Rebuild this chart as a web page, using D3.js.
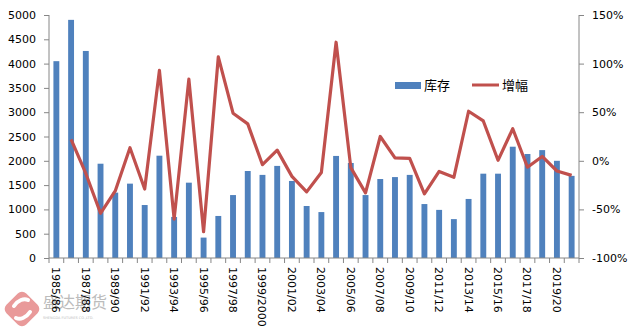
<!DOCTYPE html>
<html>
<head>
<meta charset="utf-8">
<script src="https://cdn.jsdelivr.net/npm/d3@7"></script>
<style>
  body { margin: 0; background: #fff; }
  svg { display: block; }
</style>
</head>
<body>
<svg id="chart" width="635" height="335"></svg>
<script>
const categories = ["1985/86","1986/87","1987/88","1988/89","1989/90","1990/91","1991/92","1992/93","1993/94","1994/95","1995/96","1996/97","1997/98","1998/99","1999/2000","2000/01","2001/02","2002/03","2003/04","2004/05","2005/06","2006/07","2007/08","2008/09","2009/10","2010/11","2011/12","2012/13","2013/14","2014/15","2015/16","2016/17","2017/18","2018/19","2019/20","2020/21"];
const stock = [4050,4900,4260,1940,1345,1530,1090,2105,845,1550,420,865,1295,1790,1710,1895,1585,1070,945,2100,1955,1295,1625,1665,1710,1110,990,800,1215,1735,1735,2290,2140,2220,2000,1690];
const growth = [null,22,-13,-54,-31,13.5,-29,93,-60,84,-73,107,49,38,-4,11,-16,-32,-12,122,-7,-33,25,3,2.5,-34,-11,-17,51,41,0.5,33,-6.6,4.5,-10.5,-15];
const leftTicks = [0,500,1000,1500,2000,2500,3000,3500,4000,4500,5000];
const rightTicks = [-100,-50,0,50,100,150];
const seriesNames = ["库存","增幅"];

const svg = d3.select("#chart");
const m = {left: 49, right: 579, top: 15, bottom: 258};
const font = "DejaVu Sans, Verdana, sans-serif";
const axisColor = "#868686";

const x = d3.scaleBand().domain(categories).range([m.left, m.right]).paddingInner(0).paddingOuter(0);
const yL = d3.scaleLinear().domain([0,5000]).range([m.bottom, m.top]);
const yR = d3.scaleLinear().domain([-100,150]).range([m.bottom, m.top]);

// watermark
const wm = svg.append("g").attr("opacity", 0.7);
wm.append("rect").attr("x", -14).attr("y", -14).attr("width", 28).attr("height", 28).attr("rx", 6)
  .attr("transform", "translate(22,309) rotate(45)").attr("fill", "#e07070");
wm.append("path").attr("d", "M14,306 C18,300 24,298 28,300 M16,318 C20,320 26,318 30,312")
  .attr("stroke", "#fff").attr("stroke-width", 4).attr("fill", "none").attr("stroke-linecap", "round");
wm.append("text").attr("x", 43).attr("y", 308).attr("font-family", "Noto Sans CJK SC").attr("font-size", 16)
  .attr("fill", "#a0a0a0").text("盛达期货");
wm.append("text").attr("x", 43).attr("y", 319).attr("font-family", font).attr("font-size", 3.5)
  .attr("fill", "#a0a0a0").text("SHENGDA FUTURES CO.,LTD.");

// bars
const bw = x.bandwidth() * 0.4;
svg.append("g").selectAll("rect").data(stock).join("rect")
  .attr("x", (d,i) => x(categories[i]) + x.bandwidth()/2 - bw/2)
  .attr("y", d => yL(d))
  .attr("width", bw)
  .attr("height", d => m.bottom - yL(d))
  .attr("fill", "#4F81BD");

// line
const line = d3.line()
  .defined(d => d.v !== null)
  .x(d => x(d.c) + x.bandwidth()/2)
  .y(d => yR(d.v));
svg.append("path")
  .datum(growth.map((v,i) => ({c: categories[i], v})))
  .attr("d", line)
  .attr("fill", "none")
  .attr("stroke", "#C0504D")
  .attr("stroke-width", 3.2)
  .attr("stroke-linejoin", "round");

// left axis
const gL = svg.append("g").attr("transform", `translate(${m.left},0)`)
  .call(d3.axisLeft(yL).tickValues(leftTicks).tickSize(5).tickPadding(8).tickFormat(d3.format("d")));
gL.select(".domain").attr("stroke", axisColor).attr("d", `M0,${m.top}V${m.bottom}`);
gL.selectAll(".tick line").attr("stroke", axisColor);
gL.selectAll("text").attr("font-family", font).attr("font-size", 11).attr("fill", "#000");

// right axis
const gR = svg.append("g").attr("transform", `translate(${m.right},0)`)
  .call(d3.axisRight(yR).tickValues(rightTicks).tickSize(5).tickPadding(8).tickFormat(d => d + "%"));
gR.select(".domain").attr("stroke", axisColor).attr("d", `M0,${m.top}V${m.bottom}`);
gR.selectAll(".tick line").attr("stroke", axisColor);
gR.selectAll("text").attr("font-family", font).attr("font-size", 11).attr("fill", "#000");

// bottom axis
const gB = svg.append("g").attr("transform", `translate(0,${m.bottom})`);
gB.append("line").attr("x1", m.left).attr("x2", m.right).attr("y1", 0).attr("y2", 0).attr("stroke", axisColor);
const bounds = categories.map(c => x(c)).concat([m.right]);
gB.selectAll("line.tk").data(bounds).join("line").attr("class","tk")
  .attr("x1", d => d).attr("x2", d => d).attr("y1", 0).attr("y2", 5).attr("stroke", axisColor);
gB.selectAll("text").data(categories.filter((c,i) => i % 2 === 0)).join("text")
  .attr("transform", d => `translate(${x(d) + x.bandwidth()/2 - 4},${9}) rotate(90)`)
  .attr("font-family", font).attr("font-size", 11).attr("fill", "#000")
  .attr("text-anchor", "start")
  .text(d => d);

// legend
const lg = svg.append("g");
lg.append("rect").attr("x", 395).attr("y", 82).attr("width", 26).attr("height", 7).attr("fill", "#4F81BD");
lg.append("text").attr("x", 424).attr("y", 89.5).attr("font-family", "Noto Sans CJK SC").attr("font-size", 13).attr("fill", "#000").text(seriesNames[0]);
lg.append("line").attr("x1", 472).attr("x2", 499).attr("y1", 85).attr("y2", 85).attr("stroke", "#C0504D").attr("stroke-width", 3);
lg.append("text").attr("x", 502).attr("y", 89.5).attr("font-family", "Noto Sans CJK SC").attr("font-size", 13).attr("fill", "#000").text(seriesNames[1]);
</script>
</body>
</html>
